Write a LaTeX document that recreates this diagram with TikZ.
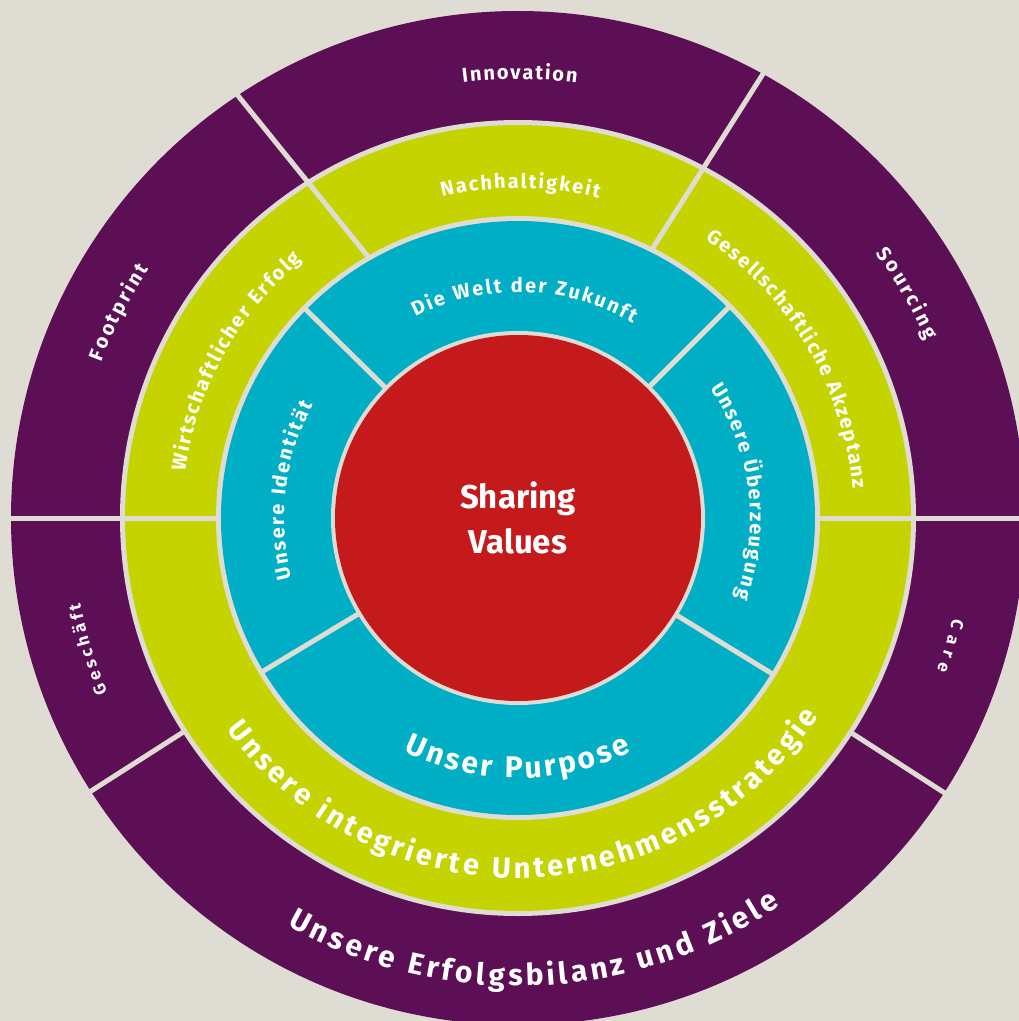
\documentclass[tikz,border=0pt]{standalone}
\usepackage{fontspec}
\setmainfont{Fira Sans}
\usetikzlibrary{decorations.text}
\definecolor{bgc}{HTML}{DFDDD3}
\definecolor{plum}{HTML}{5D0F55}
\definecolor{lime}{HTML}{C5D300}
\definecolor{teal2}{HTML}{00AEC5}
\definecolor{redc}{HTML}{C41A1C}
\newcommand{\ringlabel}[5]{%
  \path[decorate,decoration={text along path,text color=white,text align=fit to path,
    text={|\fontsize{#1}{#1}\selectfont\bfseries|#5}}]
    (#3:#2pt) arc[start angle=#3,end angle=#4,radius=#2pt];}
\begin{document}
\begin{tikzpicture}[x=1pt,y=1pt,
  divider/.style={draw=bgc,line width=5pt}]
\useasboundingbox (-518,-503) rectangle (501,518);
\clip (-518,-503) rectangle (501,518);
\fill[bgc] (-518,-503) rectangle (501,518);
% rings
\fill[plum] (0,0) circle[radius=507pt];
\fill[bgc] (0,0) circle[radius=398pt];
\fill[lime] (0,0) circle[radius=393pt];
\fill[bgc] (0,0) circle[radius=302pt];
\fill[teal2] (0,0) circle[radius=297pt];
\fill[bgc] (0,0) circle[radius=187pt];
\fill[redc] (0,0) circle[radius=183pt];
% outer dividers (purple + green)
\coordinate (d1o) at (-287,431); \coordinate (d1i) at (-148,259);
\coordinate (d2o) at (250,452);  \coordinate (d2i) at (133,267);
\coordinate (hlo) at (-515,0);   \coordinate (hli) at (-299,0);
\coordinate (hro) at (515,0);    \coordinate (hri) at (299,0);
\coordinate (d7i) at (212.6:396pt); \coordinate (d7o) at (212.6:512pt);
\coordinate (d8i) at (-32.8:396pt); \coordinate (d8o) at (-32.8:512pt);
\draw[divider] (d1o) -- (d1i);
\draw[divider] (d2o) -- (d2i);
\draw[divider] (hlo) -- (hli);
\draw[divider] (hro) -- (hri);
\draw[divider] (d7i) -- (d7o);
\draw[divider] (d8i) -- (d8o);
% teal dividers
\coordinate (t1o) at (135.5:300pt); \coordinate (t1i) at (135.5:184pt);
\coordinate (t2o) at (45:300pt);    \coordinate (t2i) at (45:184pt);
\coordinate (t3o) at (211:300pt);   \coordinate (t3i) at (211:184pt);
\coordinate (t4o) at (-31.5:300pt); \coordinate (t4i) at (-31.5:184pt);
\draw[divider] (t1o) -- (t1i);
\draw[divider] (t2o) -- (t2i);
\draw[divider] (t3o) -- (t3i);
\draw[divider] (t4o) -- (t4i);
% centre
\node[text=white,align=center,font=\fontsize{33}{45}\selectfont\bfseries] (sv) at (0,0) {Sharing\\Values};
% labels
\ringlabel{20}{439}{97.2}{82.3}{Innovation}
\ringlabel{20}{330}{103.3}{75.8}{Nachhaltigkeit}
\ringlabel{20}{226}{117}{59.5}{Die Welt der Zukunft}
\ringlabel{20}{445}{159.5}{146}{Footprint}
\ringlabel{20}{336}{172}{130}{Wirtschaftlicher Erfolg}
\ringlabel{20}{234}{195}{151}{Unsere Identität}
\ringlabel{20}{336}{56}{5}{Gesellschaftliche Akzeptanz}
\ringlabel{20}{445}{36.5}{23.5}{Sourcing}
\ringlabel{20}{232}{34}{-20}{Unsere Überzeugung}
\ringlabel{17}{446}{-13}{-20}{Care}
\ringlabel{17}{446}{203}{191}{Geschäft}
\ringlabel{30}{260}{244}{296}{Unser Purpose}
\ringlabel{29}{360}{216}{326.5}{Unsere integrierte Unternehmensstrategie}
\ringlabel{30}{468}{240.5}{304}{Unsere Erfolgsbilanz und Ziele}
\end{tikzpicture}
\end{document}
